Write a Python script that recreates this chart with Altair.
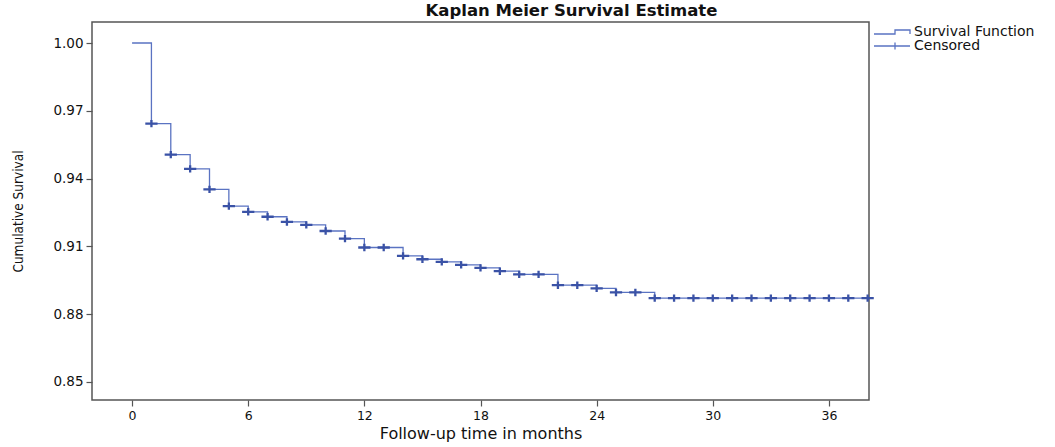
import altair as alt
import pandas as pd

# Kaplan-Meier step values (survival after the event at each month)
months = list(range(0, 39))
survival = [1.000, 0.9643, 0.9506, 0.9443, 0.9352, 0.9278, 0.9253, 0.9231,
            0.9208, 0.9195, 0.9168, 0.9134, 0.9095, 0.9095, 0.9058, 0.9043,
            0.9031, 0.9018, 0.9005, 0.8990, 0.8976, 0.8976, 0.8928, 0.8928,
            0.8914, 0.8896, 0.8896, 0.8871, 0.8871, 0.8871, 0.8871, 0.8871,
            0.8871, 0.8871, 0.8871, 0.8871, 0.8871, 0.8871, 0.8871]
censor_months = list(range(1, 39))

x_ticks = [0, 6, 12, 18, 24, 30, 36]
y_ticks = [0.85, 0.88, 0.91, 0.94, 0.97, 1.00]
legend_labels = ["Survival Function", "Censored"]

curve = pd.DataFrame({"time": months, "surv": survival,
                      "series": "Survival Function"})
cens = pd.DataFrame({"time": censor_months,
                     "surv": [survival[m] for m in censor_months],
                     "series": "Censored"})

FONT = "DejaVu Sans"
LINE_COLOR = "#5a73c2"
MARK_COLOR = "#3a52a6"

x_enc = alt.X("time:Q",
              scale=alt.Scale(domain=[-2.07, 38.07], nice=False, zero=False),
              axis=alt.Axis(values=x_ticks, title="Follow-up time in months",
                            grid=False, domain=False, tickSize=6,
                            tickColor="#555555", tickWidth=1.2,
                            labelFont=FONT, labelFontSize=12.5, labelColor="#111111",
                            labelPadding=3,
                            titleFont=FONT, titleFontSize=16, titleFontWeight="normal",
                            titleColor="#111111", titlePadding=4))
y_enc = alt.Y("surv:Q",
              scale=alt.Scale(domain=[0.842, 1.0093], nice=False, zero=False),
              axis=alt.Axis(values=y_ticks, format=".2f", title="Cumulative Survival",
                            grid=False, domain=False, tickSize=6,
                            tickColor="#555555", tickWidth=1.2,
                            labelFont=FONT, labelFontSize=13.5, labelColor="#111111",
                            labelPadding=3,
                            titleFont="Liberation Sans Narrow, DejaVu Sans Condensed, Liberation Sans",
                            titleFontSize=13.5, titleFontWeight="normal",
                            titleColor="#111111", titlePadding=27))

step_path = "M-1,0.4H3.2V-0.4H6.2V0.4"
cross_path = "M-1,0H6.2M3.2,-0.7V0.7"

line = alt.Chart(curve).mark_line(interpolate="step-after", color=LINE_COLOR,
                                  strokeWidth=1.3).encode(x=x_enc, y=y_enc)

points = alt.Chart(cens).mark_point(
    shape="M-1,0H1M0,-0.6V0.6", filled=False, strokeWidth=2.3,
    size=150, color=MARK_COLOR, opacity=1
).encode(x="time:Q", y="surv:Q")

# invisible layer that only carries the legend
legend_layer = alt.Chart(cens).mark_point(
    filled=False, opacity=0, color=LINE_COLOR
).encode(
    x="time:Q", y="surv:Q",
    shape=alt.Shape("series:N",
                    scale=alt.Scale(domain=legend_labels,
                                    range=[step_path, cross_path]),
                    legend=alt.Legend(title=None, orient="none", legendX=780,
                                      legendY=3, symbolSize=100,
                                      symbolStrokeColor=LINE_COLOR,
                                      symbolStrokeWidth=1.3,
                                      symbolOpacity=1,
                                      symbolFillColor="transparent",
                                      labelOffset=28, rowPadding=-3,
                                      labelFont=FONT, labelFontSize=14,
                                      labelColor="#111111", padding=0))
)

chart = alt.layer(line, points, legend_layer).properties(
    width=777, height=378,
    padding={"left": 92, "top": 22, "right": 186, "bottom": 47},
    autosize=alt.AutoSizeParams(type="none"),
    title=alt.TitleParams("Kaplan Meier Survival Estimate", font=FONT,
                          fontSize=16.5, fontWeight="bold", color="#111111",
                          anchor="middle", dx=91, offset=3),
    background="white",
).configure_view(stroke="#555555", strokeWidth=1.5)

chart.save("out.html", embed_options={"renderer": "svg", "actions": False})
